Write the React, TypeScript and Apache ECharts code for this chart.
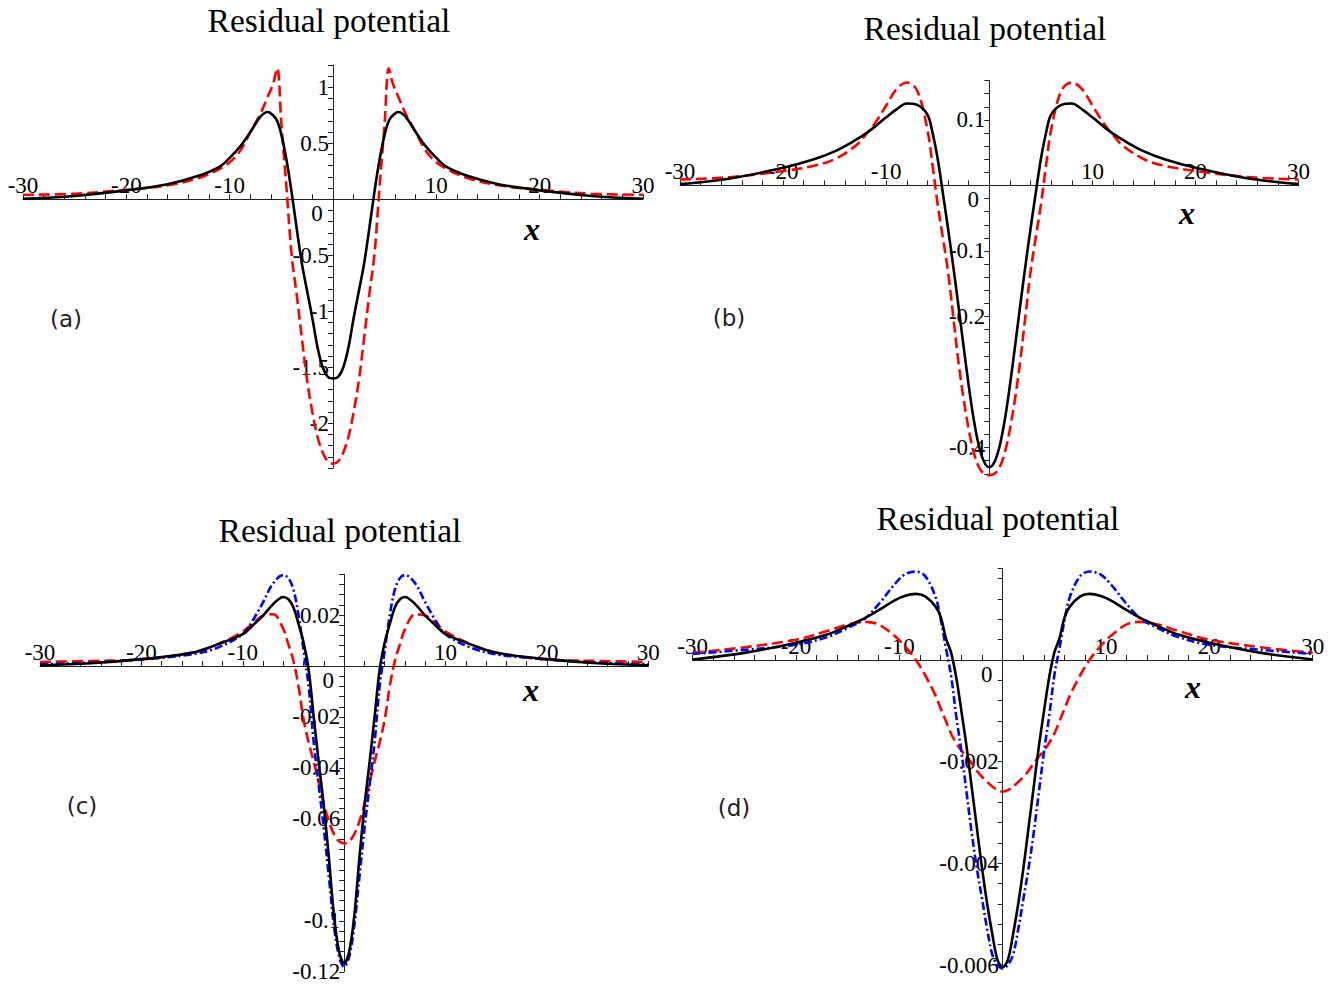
import React, { useEffect, useRef } from "react";
import * as echarts from "echarts";

// ---------- Panel (a) ----------
const xA = [-30, -25, -20, -16, -13, -11, -10, -9, -8, -7, -6.3, -5.8, -5.4, -5, -4.5, -4, -3.5, -3, -2.5, -2, -1.5, -1, -0.5, 0,
  0.5, 1, 1.5, 2, 2.5, 3, 3.5, 4, 4.5, 5, 5.4, 5.8, 6.3, 7, 8, 9, 10, 11, 13, 16, 20, 25, 30];
const blackA = [0.005, 0.03, 0.08, 0.135, 0.21, 0.29, 0.37, 0.47, 0.6, 0.74, 0.78, 0.75, 0.7, 0.58, 0.35, 0.06, -0.27, -0.58, -0.82, -1.06, -1.32, -1.5, -1.585, -1.6,
  -1.585, -1.5, -1.32, -1.06, -0.82, -0.58, -0.27, 0.06, 0.35, 0.58, 0.7, 0.75, 0.78, 0.74, 0.6, 0.47, 0.37, 0.29, 0.21, 0.135, 0.08, 0.03, 0.005];
const redA = [0.04, 0.05, 0.085, 0.125, 0.19, 0.27, 0.33, 0.43, 0.6, 0.77, 0.92, 1.03, 1.17, 0.68, 0.1, -0.5, -0.86, -1.25, -1.62, -1.9, -2.12, -2.26, -2.34, -2.36,
  -2.34, -2.26, -2.12, -1.9, -1.62, -1.25, -0.86, -0.5, 0.1, 0.68, 1.17, 1.03, 0.92, 0.77, 0.6, 0.43, 0.33, 0.27, 0.19, 0.125, 0.085, 0.05, 0.04];

// ---------- Panel (b) ----------
const xB = [-30, -25, -20, -17, -15, -13, -12, -11, -10, -9, -8, -7, -6, -5.5, -5, -4.5, -4, -3.5, -3, -2.5, -2, -1.5, -1, -0.5, 0,
  0.5, 1, 1.5, 2, 2.5, 3, 3.5, 4, 4.5, 5, 5.5, 6, 7, 8, 9, 10, 11, 12, 13, 15, 17, 20, 25, 30];
const blackB = [0.002, 0.011, 0.027, 0.04, 0.052, 0.069, 0.079, 0.091, 0.104, 0.116, 0.125, 0.123, 0.108, 0.08, 0.04, -0.012, -0.066, -0.123, -0.183, -0.245, -0.305, -0.358, -0.398, -0.422, -0.43,
  -0.422, -0.398, -0.358, -0.305, -0.245, -0.183, -0.123, -0.066, -0.012, 0.04, 0.08, 0.108, 0.123, 0.125, 0.116, 0.104, 0.091, 0.079, 0.069, 0.052, 0.04, 0.027, 0.011, 0.002];
const redB = [0.009, 0.013, 0.022, 0.03, 0.04, 0.06, 0.077, 0.097, 0.122, 0.147, 0.157, 0.145, 0.085, 0.03, -0.03, -0.08, -0.132, -0.2, -0.268, -0.325, -0.372, -0.408, -0.43, -0.44, -0.442,
  -0.44, -0.43, -0.408, -0.372, -0.325, -0.268, -0.2, -0.132, -0.08, -0.03, 0.03, 0.085, 0.145, 0.157, 0.147, 0.122, 0.097, 0.077, 0.06, 0.04, 0.03, 0.022, 0.013, 0.009];

// ---------- Panel (c) ----------
const xC = [-30, -25, -20, -15, -12.5, -10, -9, -8, -7, -6, -5.5, -5, -4.5, -4, -3.5, -3, -2.5, -2, -1.5, -1, -0.5, 0,
  0.5, 1, 1.5, 2, 2.5, 3, 3.5, 4, 4.5, 5, 5.5, 6, 7, 8, 9, 10, 12.5, 15, 20, 25, 30];
const blackC = [0.0003, 0.0011, 0.0027, 0.0052, 0.0085, 0.0125, 0.016, 0.0198, 0.0243, 0.0271, 0.0262, 0.023, 0.0165, 0.0092, -0.0015, -0.02, -0.038, -0.055, -0.0755, -0.098, -0.112, -0.1167,
  -0.112, -0.098, -0.0755, -0.055, -0.038, -0.02, -0.0015, 0.0092, 0.0165, 0.023, 0.0262, 0.0271, 0.0243, 0.0198, 0.016, 0.0125, 0.0085, 0.0052, 0.0027, 0.0011, 0.0003];
const blueC = [0.0007, 0.0013, 0.0026, 0.0046, 0.0072, 0.0125, 0.018, 0.025, 0.0325, 0.0357, 0.0345, 0.03, 0.02, 0.006, -0.008, -0.03, -0.047, -0.064, -0.083, -0.102, -0.114, -0.118,
  -0.114, -0.102, -0.083, -0.064, -0.047, -0.03, -0.008, 0.006, 0.02, 0.03, 0.0345, 0.0357, 0.0325, 0.025, 0.018, 0.0125, 0.0072, 0.0046, 0.0026, 0.0013, 0.0007];
const redC = [0.0016, 0.002, 0.0026, 0.0053, 0.0085, 0.0135, 0.0168, 0.0198, 0.0203, 0.0145, 0.0085, 0.002, -0.008, -0.021, -0.03, -0.0375, -0.0458, -0.0542, -0.061, -0.066, -0.0688, -0.0696,
  -0.0688, -0.066, -0.061, -0.0542, -0.0458, -0.0375, -0.03, -0.021, -0.008, 0.002, 0.0085, 0.0145, 0.0203, 0.0198, 0.0168, 0.0135, 0.0085, 0.0053, 0.0026, 0.002, 0.0016];

// ---------- Panel (d) ----------
const xD = [-30, -25, -20, -17, -15, -13.3, -12, -10.5, -9.5, -8.4, -7.5, -6.5, -6, -5.5, -5, -4.5, -4, -3.5, -3, -2.5, -2, -1.5, -1, -0.5, 0,
  0.5, 1, 1.5, 2, 2.5, 3, 3.5, 4, 4.5, 5, 5.5, 6, 6.5, 7.5, 8.4, 9.5, 10.5, 12, 13.3, 15, 17, 20, 25, 30];
const blackD = [0.00001, 0.00014, 0.00034, 0.0005, 0.00067, 0.00083, 0.00098, 0.00117, 0.00126, 0.0013, 0.00125, 0.00105, 0.00085, 0.00043, 0.00015, -0.00034, -0.001, -0.0017, -0.0025, -0.0033, -0.0041, -0.0048, -0.0054, -0.0059, -0.00604,
  -0.0059, -0.0054, -0.0048, -0.0041, -0.0033, -0.0025, -0.0017, -0.001, -0.00034, 0.00015, 0.00043, 0.00085, 0.00105, 0.00125, 0.0013, 0.00126, 0.00117, 0.00098, 0.00083, 0.00067, 0.0005, 0.00034, 0.00014, 0.00001];
const blueD = [0.00012, 0.0002, 0.0003, 0.00045, 0.00063, 0.00082, 0.0011, 0.00148, 0.00168, 0.00174, 0.00165, 0.00124, 0.0008, 0.00024, -0.0003, -0.0011, -0.0018, -0.0026, -0.0034, -0.0041, -0.0047, -0.0053, -0.0058, -0.006, -0.00607,
  -0.006, -0.0058, -0.0053, -0.0047, -0.0041, -0.0034, -0.0026, -0.0018, -0.0011, -0.0003, 0.00024, 0.0008, 0.00124, 0.00165, 0.00174, 0.00168, 0.00148, 0.0011, 0.00082, 0.00063, 0.00045, 0.0003, 0.0002, 0.00012];
const redD = [0.00014, 0.00025, 0.0004, 0.00057, 0.0007, 0.00075, 0.0007, 0.00048, 0.00028, 0.0, -0.0003, -0.0007, -0.00095, -0.0012, -0.00145, -0.00163, -0.00178, -0.0019, -0.00203, -0.00218, -0.0023, -0.0024, -0.00249, -0.00256, -0.00259,
  -0.00256, -0.00249, -0.0024, -0.0023, -0.00218, -0.00203, -0.0019, -0.00178, -0.00163, -0.00145, -0.0012, -0.00095, -0.0007, -0.0003, 0.0, 0.00028, 0.00048, 0.0007, 0.00075, 0.0007, 0.00057, 0.0004, 0.00025, 0.00014];

// axis settings per panel
const yMinList = [-2.4, -0.44, -0.12, -0.006];
const yMaxList = [1.2, 0.16, 0.036, 0.0018];
const yTickList = [0.1, 0.02, 0.004, 0.0004];
const yLabelStepList = [0.5, 0.1, 0.02, 0.002];
const ySkipList: number[][] = [[], [-0.3], [-0.08], []];
const xTickLabels = [-30, -20, -10, 10, 20, 30];
const panelTags = ["(a)", "(b)", "(c)", "(d)"];
const titleText = "Residual potential";

const grids = [
  { left: 23, top: 64.9, width: 620, height: 403.2 },
  { left: 680, top: 80.6, width: 618.6, height: 393.2 },
  { left: 40, top: 574.3, width: 608.3, height: 397.5 },
  { left: 692.7, top: 568.5, width: 620, height: 396.5 },
];
const titlePos = [[329, 20], [985, 28], [340, 530], [998, 518]];
const xNamePos = [[532, 229], [1187, 213], [531, 690], [1193, 687]];
const tagPos = [[66, 319], [729, 318], [82, 806], [734, 808]];

const zip = (xs: number[], ys: number[]) => xs.map((x, i) => [x, ys[i]]);
const fmt = (v: number) => String(parseFloat(v.toPrecision(8)));

const SERIF = "Liberation Serif";

export default function App() {
  const ref = useRef<HTMLDivElement>(null);
  useEffect(() => {
    if (!ref.current) return;
    const chart = echarts.init(ref.current, null, { renderer: "svg" });

    const axisLineStyle = { color: "#222", width: 1 };

    // pixel distance from the grid bottom up to y = 0
    const zeroUp = grids.map((g, i) => (g.height * -yMinList[i]) / (yMaxList[i] - yMinList[i]));

    const xAxes = grids.map((g, i) => ({
      type: "value",
      gridIndex: i,
      position: "bottom",
      offset: -zeroUp[i],
      min: -30,
      max: 30,
      interval: 2,
      axisLine: { show: true, onZero: false, lineStyle: axisLineStyle },
      axisTick: { show: true, inside: true, length: 5, lineStyle: axisLineStyle },
      splitLine: { show: false },
      axisLabel: {
        inside: true,
        margin: 2,
        showMinLabel: true,
        showMaxLabel: true,
        fontFamily: SERIF,
        fontSize: 23,
        color: "#000",
        formatter: (v: number) => (xTickLabels.some((t) => Math.abs(t - v) < 1e-9) ? fmt(v) : ""),
      },
    }));

    const yAxes = grids.map((g, i) => ({
      type: "value",
      gridIndex: i,
      position: "left",
      offset: -g.width / 2,
      min: yMinList[i],
      max: yMaxList[i],
      interval: yTickList[i],
      axisLine: { show: true, onZero: false, lineStyle: axisLineStyle },
      axisTick: { show: true, inside: false, length: 5, lineStyle: axisLineStyle },
      splitLine: { show: false },
      axisLabel: {
        margin: 4,
        showMinLabel: true,
        showMaxLabel: true,
        fontFamily: SERIF,
        fontSize: 23,
        color: "#000",
        formatter: (v: number) => {
          const step = yLabelStepList[i];
          const k = v / step;
          if (Math.abs(k - Math.round(k)) > 1e-6) return "";
          if (Math.abs(v) < step * 1e-6) return "";
          if (ySkipList[i].some((s) => Math.abs(s - v) < step * 1e-6)) return "";
          return fmt(v);
        },
      },
    }));

    const black = { color: "#000000", width: 2.6, type: "solid" };
    const red = { color: "#ff0000", width: 2.6, type: [11, 5] };
    const blue = { color: "#0000ff", width: 2.6, type: [8, 3, 2, 3] };

    const mk = (i: number, data: number[][], style: any, name: string) => ({
      type: "line",
      name,
      xAxisIndex: i,
      yAxisIndex: i,
      data,
      showSymbol: false,
      symbol: "none",
      smooth: 0.35,
      clip: false,
      lineStyle: style,
      emphasis: { disabled: true },
    });

    const series = [
      mk(0, zip(xA, redA), red, "a-red"),
      mk(0, zip(xA, blackA), black, "a-black"),
      mk(1, zip(xB, redB), red, "b-red"),
      mk(1, zip(xB, blackB), black, "b-black"),
      mk(2, zip(xC, redC), red, "c-red"),
      mk(2, zip(xC, blueC), blue, "c-blue"),
      mk(2, zip(xC, blackC), black, "c-black"),
      mk(3, zip(xD, redD), red, "d-red"),
      mk(3, zip(xD, blueD), blue, "d-blue"),
      mk(3, zip(xD, blackD), black, "d-black"),
    ];

    const graphic: any[] = [];
    grids.forEach((g, i) => {
      graphic.push({
        type: "text",
        x: titlePos[i][0],
        y: titlePos[i][1],
        style: { text: titleText, fontFamily: SERIF, fontSize: 33.5, fill: "#000", textAlign: "center", textVerticalAlign: "middle" },
      });
      graphic.push({
        type: "text",
        x: xNamePos[i][0],
        y: xNamePos[i][1],
        style: { text: "x", fontFamily: SERIF, fontSize: 32, fontWeight: "bold", fontStyle: "italic", fill: "#000", textAlign: "center", textVerticalAlign: "middle" },
      });
      graphic.push({
        type: "text",
        x: tagPos[i][0],
        y: tagPos[i][1],
        style: { text: panelTags[i], fontFamily: "DejaVu Sans", fontSize: 23, fill: "#222", textAlign: "center", textVerticalAlign: "middle" },
      });
      const ox = g.left + g.width / 2;
      const oy = g.top + g.height - zeroUp[i];
      graphic.push({
        type: "text",
        x: ox - 16,
        y: oy + 14,
        style: { text: "0", fontFamily: SERIF, fontSize: 23, fill: "#000", textAlign: "center", textVerticalAlign: "middle" },
      });
    });

    chart.setOption({
      animation: false,
      backgroundColor: "#ffffff",
      grid: grids.map((g) => ({ ...g, containLabel: false, outerBoundsMode: "none" })),
      xAxis: xAxes,
      yAxis: yAxes,
      series,
      graphic,
    });
    return () => chart.dispose();
  }, []);

  return (
    <div
      ref={ref}
      style={{ position: "fixed", left: 0, top: 0, width: 1342, height: 987, background: "#fff" }}
    />
  );
}
